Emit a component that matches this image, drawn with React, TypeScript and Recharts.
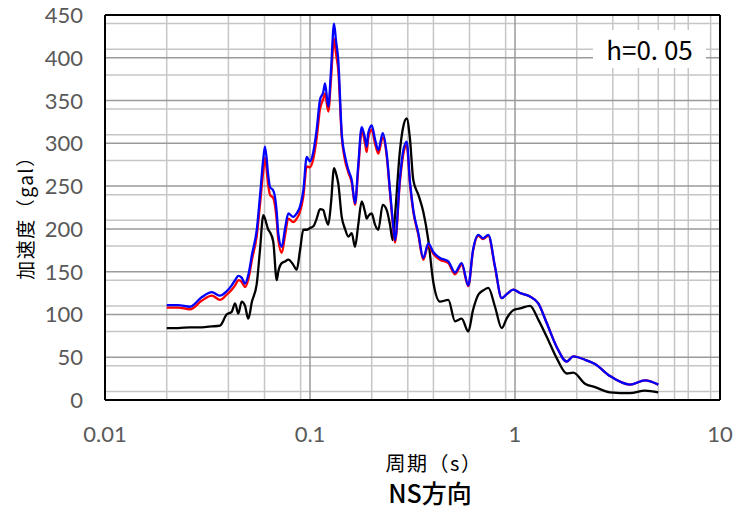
import React from 'react';
import { LineChart, Line, XAxis, YAxis, CartesianGrid, ReferenceLine } from 'recharts';

// 周期 (s)
const periods = [
  0.02, 0.0227, 0.026, 0.0296, 0.0332, 0.0364, 0.0392, 0.0415, 0.0431, 0.0447,
  0.0464, 0.0482, 0.05, 0.0521, 0.055, 0.057, 0.0592, 0.0603, 0.0626, 0.0638,
  0.0662, 0.0688, 0.07, 0.0728, 0.0755, 0.0784, 0.0829, 0.0861, 0.0894, 0.0928,
  0.0964, 0.1, 0.1038, 0.1078, 0.1119, 0.1161, 0.1184, 0.1228, 0.1266, 0.131,
  0.1339, 0.1374, 0.1428, 0.1482, 0.1538, 0.1598, 0.1658, 0.172, 0.1787, 0.1855,
  0.1891, 0.1924, 0.2, 0.2075, 0.2154, 0.2263, 0.2367, 0.2456, 0.2532, 0.2597,
  0.2748, 0.2842, 0.2963, 0.3074, 0.3191, 0.3376, 0.357, 0.3776, 0.3994, 0.4306,
  0.4727, 0.5098, 0.5495, 0.5918, 0.6238, 0.6622, 0.6982, 0.741, 0.7989, 0.8612,
  0.9141, 0.981, 1.0578, 1.1837, 1.299, 1.428, 1.597, 1.787, 1.924, 2.195,
  2.456, 2.906, 3.639, 4.306, 5.0,
];

// 加速度応答 (gal)
const blueSa = [
  111, 111, 109, 120, 126, 122, 127, 134, 140, 145,
  143, 136, 146, 170, 199, 238, 282, 296, 262, 249,
  245, 220, 195, 179, 200, 218, 214, 218, 226, 245,
  284, 279, 290, 316, 351, 360, 370, 343, 385, 440,
  420, 397, 312, 285, 269, 257, 230, 275, 319, 306,
  296, 312, 321, 305, 292, 312, 288, 245, 210, 187,
  260, 290, 302, 255, 222, 195, 166, 183, 173, 166,
  162, 149, 160, 134, 175, 193, 189, 193, 156, 119,
  124, 129, 125, 121, 113, 90, 62, 45, 51, 47,
  42, 28, 18, 23, 18,
];

const redSa = [
  108, 108, 106, 116, 122, 117, 123, 129, 134, 140,
  138, 132, 141, 164, 192, 228, 268, 283, 250, 240,
  236, 210, 188, 172, 192, 212, 208, 212, 220, 238,
  273, 272, 282, 306, 340, 352, 358, 337, 375, 422,
  405, 385, 308, 280, 266, 254, 228, 270, 315, 300,
  290, 306, 316, 300, 288, 307, 285, 242, 207, 184,
  256, 285, 298, 252, 220, 193, 164, 181, 171, 164,
  160, 147, 158, 133, 174, 192, 188, 192, 155, 119,
  124, 129, 125, 121, 113, 90, 62, 45, 51, 47,
  42, 28, 18, 23, 18,
];

const blackSa = [
  84, 84, 85, 85, 86, 87, 100, 103, 113, 101,
  115, 110, 95, 115, 136, 175, 216, 212, 199, 196,
  185, 140, 150, 160, 162, 164, 158, 152, 175, 199,
  199, 201, 203, 212, 223, 222, 215, 205, 230, 271,
  265, 253, 214, 200, 191, 195, 179, 205, 232, 220,
  212, 215, 218, 205, 199, 228, 222, 205, 187, 215,
  292, 318, 329, 305, 257, 240, 220, 187, 138, 115,
  117, 92, 95, 80, 105, 123, 128, 131, 109, 84,
  96, 105, 107, 110, 94, 74, 49, 31, 32, 19,
  15, 9, 8, 11, 9,
];

const xTicks = [0.01, 0.1, 1, 10];
const yTicks = [0, 50, 100, 150, 200, 250, 300, 350, 400, 450];
const xMinorGrid = [
  0.02, 0.03, 0.04, 0.05, 0.06, 0.07, 0.08, 0.09,
  0.2, 0.3, 0.4, 0.5, 0.6, 0.7, 0.8, 0.9,
  2, 3, 4, 5, 6, 7, 8, 9,
];
const xMajorGrid = [0.1, 1];
const yMinorGrid = [
  10, 20, 30, 40, 60, 70, 80, 90, 110, 120, 130, 140, 160, 170, 180, 190,
  210, 220, 230, 240, 260, 270, 280, 290, 310, 320, 330, 340, 360, 370, 380, 390,
  410, 420, 430, 440,
];
const yMajorGrid = [50, 100, 150, 200, 250, 300, 350, 400];

const data = periods.map((t, i) => ({
  period: t,
  blue: blueSa[i],
  red: redSa[i],
  black: blackSa[i],
}));

const tickFont = 'Lato, "Noto Sans", sans-serif';
const jpFont = '"Noto Sans CJK JP", sans-serif';

const XTick = (props: any) => {
  const { x, y, payload } = props;
  return (
    <text x={x} y={y} dy={34} textAnchor="middle" fill="#595959" fontSize={22} fontFamily={tickFont}>
      {String(payload.value)}
    </text>
  );
};

const YTick = (props: any) => {
  const { x, y, payload } = props;
  return (
    <text x={x} y={y} dy={8} textAnchor="end" fill="#595959" fontSize={22} fontFamily={tickFont}>
      {payload.value}
    </text>
  );
};

export default function App() {
  return (
    <div style={{ position: 'fixed', left: 0, top: 0, width: 736, height: 511, background: '#fff' }}>
      <LineChart
        width={736}
        height={511}
        data={data}
        margin={{ top: 15, right: 16, left: 0, bottom: 0 }}
      >
        <CartesianGrid stroke="#c6c6c6" strokeWidth={1.5} horizontalValues={yMinorGrid} verticalValues={xMinorGrid} />
        <CartesianGrid stroke="#9a9a9a" strokeWidth={1.5} horizontalValues={yMajorGrid} verticalValues={xMajorGrid} />
        <XAxis
          dataKey="period"
          type="number"
          scale="log"
          domain={[0.01, 10]}
          ticks={xTicks}
          allowDataOverflow
          height={111}
          tickLine={false}
          axisLine={{ stroke: '#000', strokeWidth: 2 }}
          tick={<XTick />}
        />
        <YAxis
          type="number"
          domain={[0, 450]}
          ticks={yTicks}
          width={105}
          tickLine={false}
          tickSize={0}
          tickMargin={22}
          axisLine={{ stroke: '#000', strokeWidth: 2 }}
          tick={<YTick />}
        />
        <ReferenceLine y={450} stroke="#000" strokeWidth={2} />
        <ReferenceLine x={10} stroke="#000" strokeWidth={2} />
        <Line type="monotone" dataKey="black" stroke="#000000" strokeWidth={2.3} dot={false} isAnimationActive={false} />
        <Line type="monotone" dataKey="red" stroke="#ff0000" strokeWidth={2.3} dot={false} isAnimationActive={false} />
        <Line type="monotone" dataKey="blue" stroke="#0000ff" strokeWidth={2.3} dot={false} isAnimationActive={false} />
      </LineChart>

      <div
        style={{
          position: 'absolute', left: 593, top: 30, width: 113, height: 38, background: '#fff',
          fontFamily: jpFont, fontSize: 26, lineHeight: '38px', textAlign: 'center', color: '#000',
        }}
      >
        h=0. 05
      </div>

      <div style={{ position: 'absolute', left: 25, top: 213, width: 0, height: 0 }}>
        <div
          style={{
            position: 'absolute', transform: 'translate(-50%, -50%) rotate(-90deg)',
            whiteSpace: 'nowrap', fontFamily: jpFont, fontSize: 19, lineHeight: '22px',
            letterSpacing: 1.5, color: '#000',
          }}
        >
          加速度（gal）
        </div>
      </div>

      <div
        style={{
          position: 'absolute', left: 334, width: 200, top: 452, height: 22, textAlign: 'center',
          fontFamily: jpFont, fontSize: 20, lineHeight: '22px', letterSpacing: 1.5, color: '#000',
        }}
      >
        周期（s）
      </div>

      <div
        style={{
          position: 'absolute', left: 330, width: 200, top: 474, textAlign: 'center',
          fontFamily: jpFont, fontSize: 25, fontWeight: 500, color: '#000',
        }}
      >
        NS方向
      </div>
    </div>
  );
}
